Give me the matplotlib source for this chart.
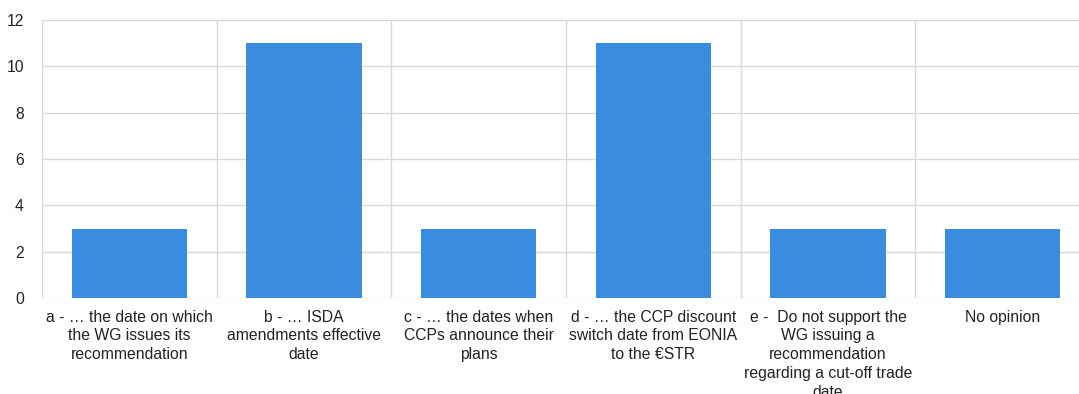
import matplotlib
matplotlib.use("Agg")
import matplotlib.pyplot as plt
import numpy as np

plt.rcParams['font.family'] = ['Liberation Sans', 'DejaVu Sans']

categories = [
    "a - … the date on which\nthe WG issues its\nrecommendation",
    "b - … ISDA\namendments effective\ndate",
    "c - … the dates when\nCCPs announce their\nplans",
    "d - … the CCP discount\nswitch date from EONIA\nto the €STR",
    "e -  Do not support the\nWG issuing a\nrecommendation\nregarding a cut-off trade\ndate",
    "No opinion",
]
values = [3, 11, 3, 11, 3, 3]
yticks = [0, 2, 4, 6, 8, 10, 12]

fig = plt.figure(figsize=(10.79, 3.94), dpi=100)
# plot area runs a little past the right edge of the image, as in the source
ax = fig.add_axes([42 / 1079, 1 - 298 / 394, 1048 / 1079, 278 / 394])

x = np.arange(len(values))
ax.bar(x, values, width=0.66, color="#3a8ce0", zorder=3)

ax.set_xlim(-0.5, len(values) - 0.5)
ax.set_ylim(0, 12)
ax.set_yticks(yticks)
ax.set_yticklabels([str(v) for v in yticks])
ax.set_xticks(x)
ax.set_xticklabels([])

grid_col = "#d9d9d9"
for v in yticks:
    ax.axhline(v, color=grid_col, lw=1, zorder=1)
for b in np.arange(-0.5, len(values), 1.0):
    ax.axvline(b, color=grid_col, lw=1, zorder=1)

for s in ax.spines.values():
    s.set_visible(False)
ax.tick_params(axis="both", length=0, labelsize=11.3, colors="#222222")
ax.tick_params(axis="y", pad=13)

for xi, lab in zip(x, categories):
    ax.text(xi, -0.5, lab, ha="center", va="top", fontsize=11.3,
            color="#222222", linespacing=1.32,
            transform=ax.transData, clip_on=False)

fig.savefig("out.png", dpi=100)
